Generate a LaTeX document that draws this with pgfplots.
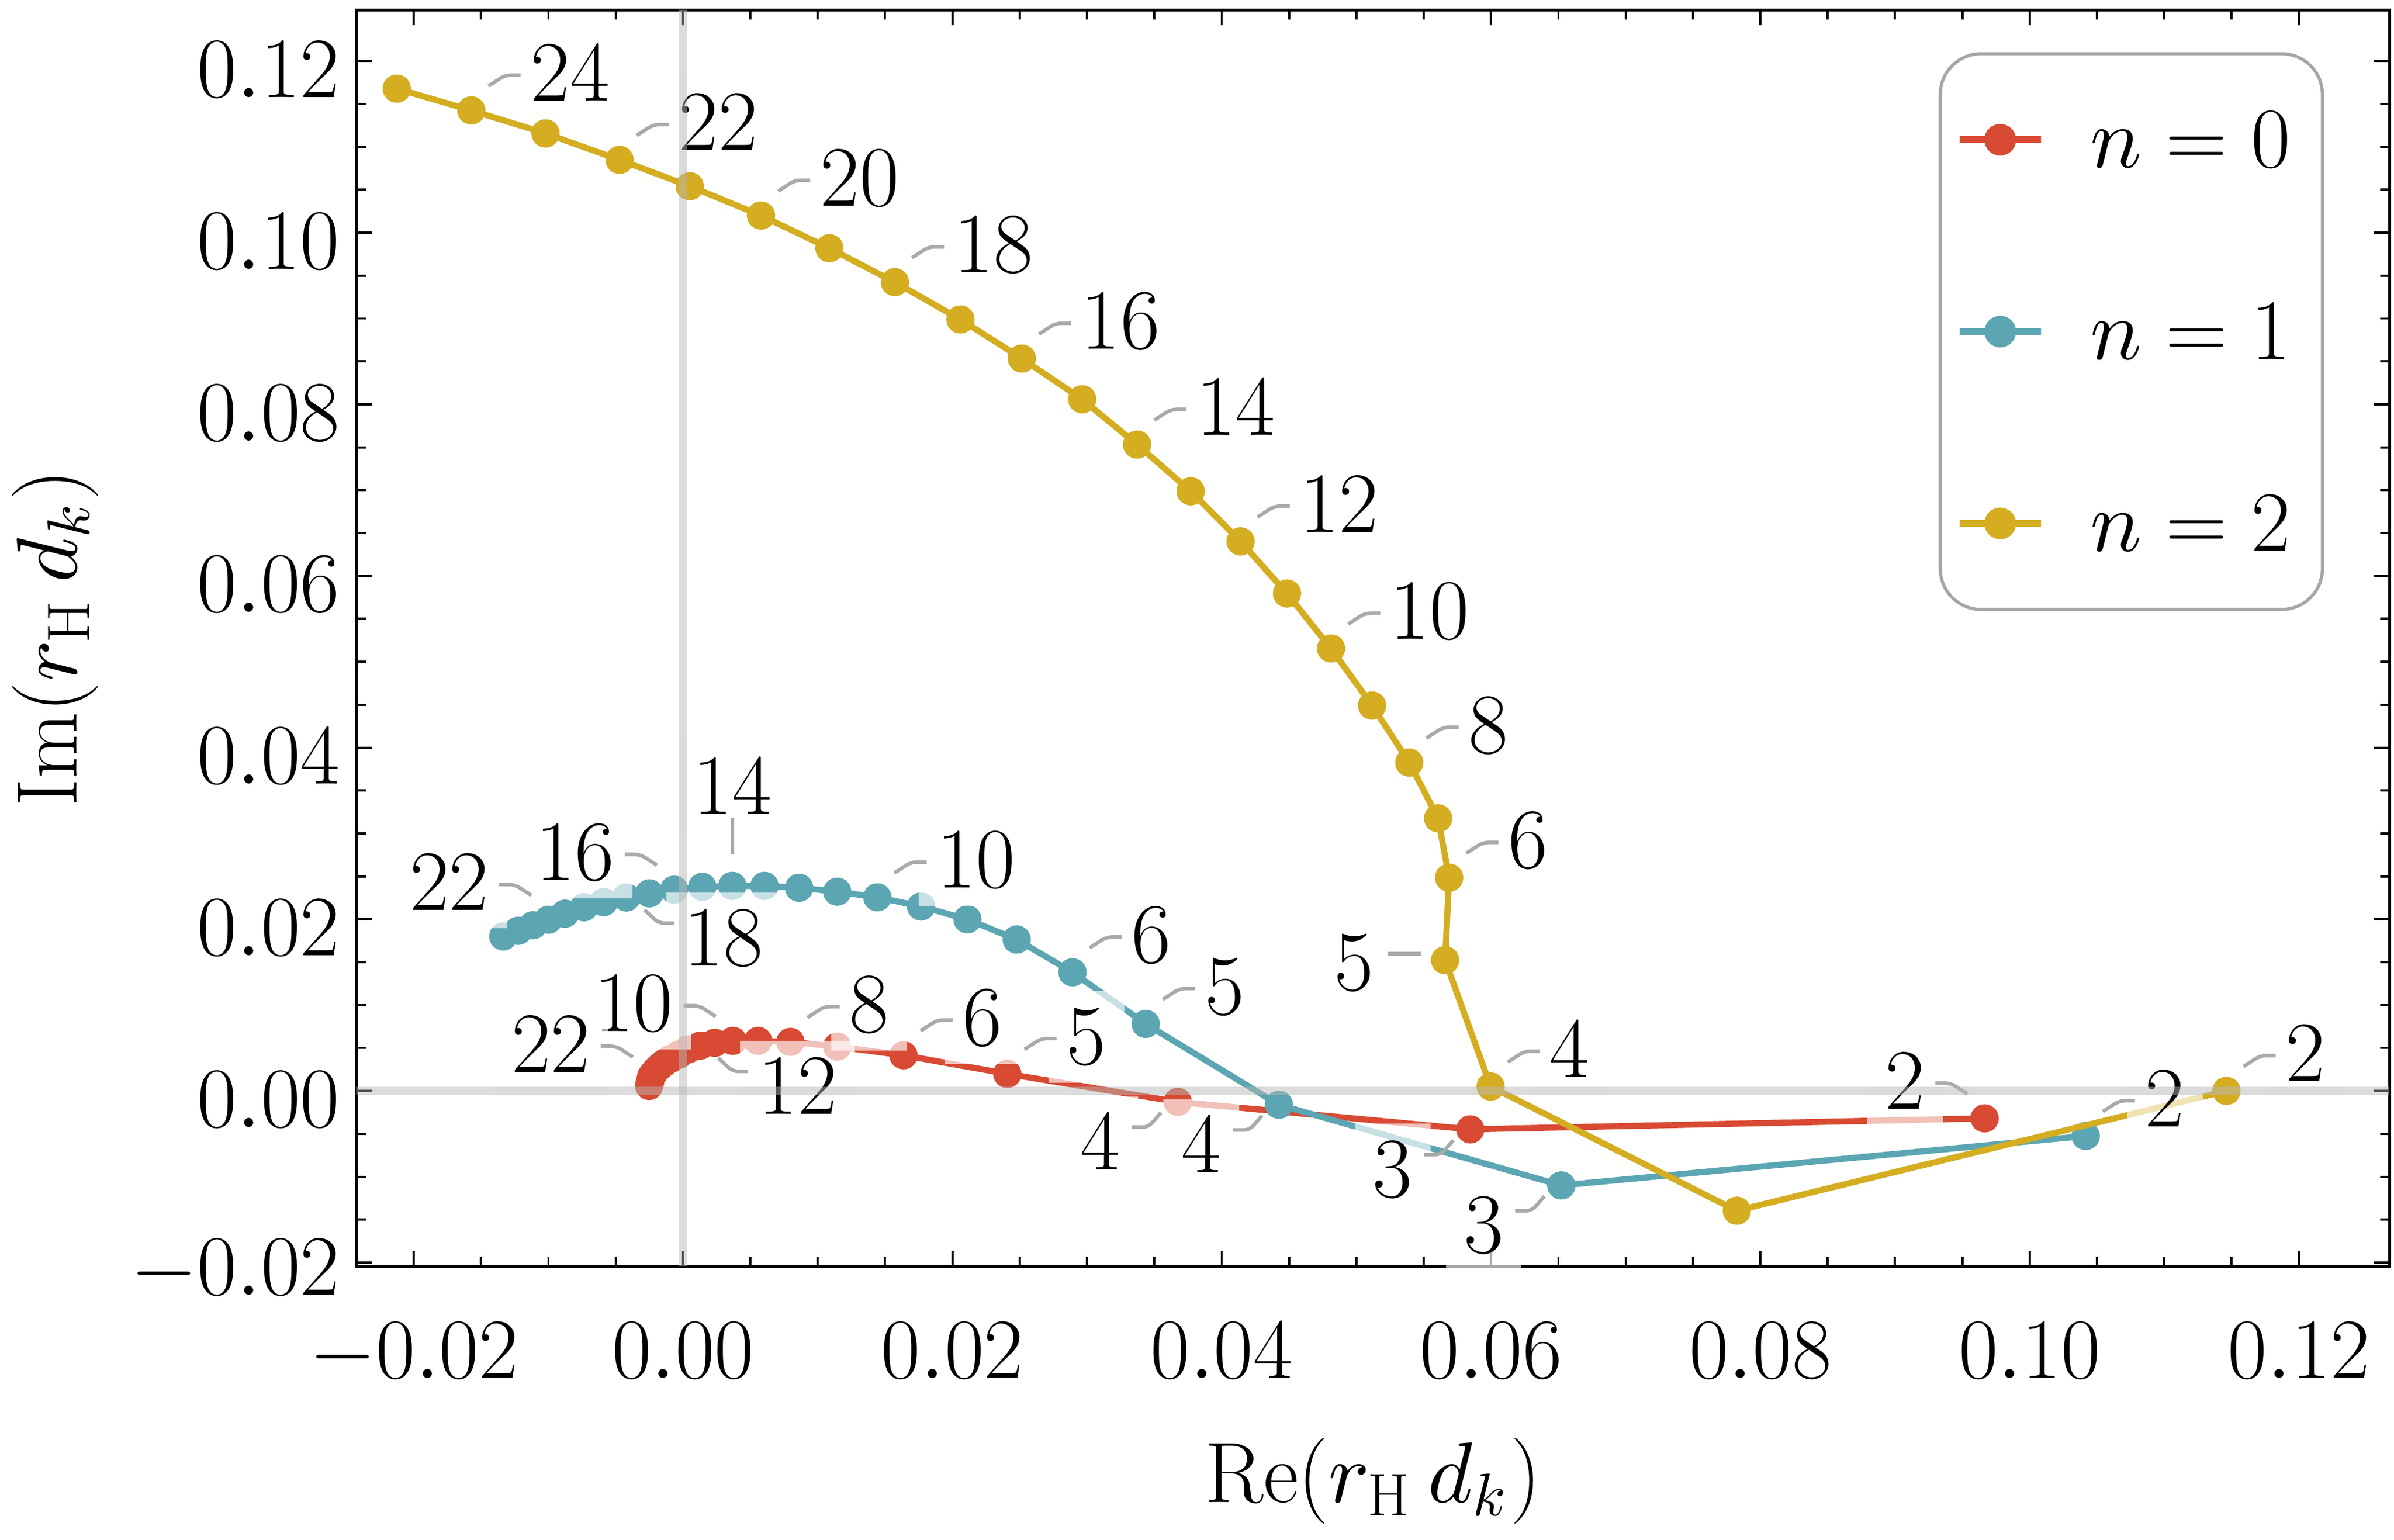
\documentclass[border=0pt]{standalone}
\usepackage{pgfplots}
\pgfplotsset{compat=1.18}
\DeclareFontFamily{OT1}{cmrx}{}
\DeclareFontShape{OT1}{cmrx}{m}{n}{<->cmr17}{}
\DeclareFontFamily{OML}{cmmx}{\skewchar\font=127}
\DeclareFontShape{OML}{cmmx}{m}{it}{<->cmmi10}{}
\DeclareFontFamily{OMS}{cmsx}{\skewchar\font=48}
\DeclareFontShape{OMS}{cmsx}{m}{n}{<->cmsy10}{}
\DeclareSymbolFont{operators}{OT1}{cmrx}{m}{n}
\DeclareSymbolFont{letters}{OML}{cmmx}{m}{it}
\DeclareSymbolFont{symbols}{OMS}{cmsx}{m}{n}
\definecolor{cR}{RGB}{216,74,51}
\definecolor{cB}{RGB}{91,166,178}
\definecolor{cY}{RGB}{212,173,33}
\definecolor{ldrgray}{RGB}{170,170,170}
\definecolor{gridgray}{RGB}{183,183,183}
\definecolor{leggray}{RGB}{166,166,166}
\tikzset{
 ldr/.style={draw=ldrgray, line width=0.4pt, rounded corners=0.6pt},
 lbl/.style={fill=white, fill opacity=0.66, text opacity=1, inner sep=2pt},
}
\newcommand{\labNE}[3]{%
 \path (axis cs:#1,#2) ++(4.35pt,4.1pt) node[lbl,anchor=west]{$#3$};
 \draw[ldr] (axis cs:#1,#2) ++(1.9pt,2.7pt) -- ++(1.85pt,1.2pt) -- ++(1.7pt,0pt);}
\newcommand{\labNW}[3]{%
 \path (axis cs:#1,#2) ++(-4.4pt,4.1pt) node[lbl,anchor=east]{$#3$};
 \draw[ldr] (axis cs:#1,#2) ++(-1.9pt,2.7pt) -- ++(-1.85pt,1.2pt) -- ++(-1.7pt,0pt);}
\newcommand{\labSE}[3]{%
 \path (axis cs:#1,#2) ++(4.2pt,-4.5pt) node[lbl,anchor=west]{$#3$};
 \draw[ldr] (axis cs:#1,#2) ++(2.0pt,-1.37pt) -- ++(1.6pt,-1.48pt) -- ++(1.65pt,0pt);}
\newcommand{\labSW}[3]{%
 \path (axis cs:#1,#2) ++(-4.2pt,-4.45pt) node[lbl,anchor=east]{$#3$};
 \draw[ldr] (axis cs:#1,#2) ++(-1.87pt,-1.2pt) -- ++(-1.39pt,-1.6pt) -- ++(-1.84pt,0pt);}
\newcommand{\labN}[3]{%
 \path (axis cs:#1,#2) ++(0pt,5.7pt) node[lbl,anchor=south]{$#3$};
 \draw[ldr] (axis cs:#1,#2) ++(0pt,3.5pt) -- ++(0pt,4pt);}
\newcommand{\labW}[3]{%
 \path (axis cs:#1,#2) ++(-5.7pt,-0.3pt) node[lbl,anchor=east]{$#3$};
 \draw[ldr] (axis cs:#1,#2) ++(-2.7pt,0.7pt) -- ++(-3.7pt,0pt);}
\begin{document}
\fontsize{9.5}{11.5}\selectfont
\begin{tikzpicture}
\begin{axis}[
 scale only axis, width=224.7pt, height=138.9pt,
 xmin=-0.02425, xmax=0.12672, ymin=-0.02045, ymax=0.12596,
 xtick={-0.02,0,0.02,0.04,0.06,0.08,0.10,0.12},
 ytick={-0.02,0,0.02,0.04,0.06,0.08,0.10,0.12},
 minor tick num=3,
 tick align=inside,
 major tick length=1.7pt, minor tick length=1.05pt,
 every tick/.style={black, line width=0.25pt},
 axis line style={line width=0.3pt},
 scaled ticks=false,
 xticklabel style={/pgf/number format/fixed, /pgf/number format/fixed zerofill, /pgf/number format/precision=2, yshift=-2.89pt},
 yticklabel style={/pgf/number format/fixed, /pgf/number format/fixed zerofill, /pgf/number format/precision=2, xshift=1.51pt, yshift=-0.95pt},
 xlabel={$\mathrm{Re}(r_{\mathrm{H}}\,d_k)$},
 ylabel={$\mathrm{Im}(r_{\mathrm{H}}\,d_k)$},
 xlabel style={at={(axis description cs:0.5,-0.1708)}, anchor=center},
 ylabel style={at={(axis description cs:-0.1482,0.5)}, anchor=center},
 clip mode=individual,
 legend style={at={(rel axis cs:1,1)}, anchor=north east, xshift=-7.24pt, yshift=-4.67pt,
   draw=leggray, line width=0.35pt, rounded corners=4.5pt, inner xsep=2pt, inner ysep=3.15pt,
   row sep=8.48pt, nodes={inner xsep=1.5pt, inner ysep=3.3pt, text depth=0pt},
   /tikz/every odd column/.append style={column sep=3.8pt}},
 legend cell align=left,
 legend image code/.code={\draw[mark repeat=2,mark phase=2,#1] plot coordinates {(0pt,0pt)(4.25pt,0pt)(8.5pt,0pt)};},
 legend image post style={line width=0.76pt, mark size=1.37pt},
]
\addplot[cR, line width=0.68pt, mark=*, mark size=1.22pt, mark options={draw=none, fill=cR}] coordinates {
(0.09665,-0.00320) (0.05846,-0.00448) (0.03674,-0.00128) (0.02408,0.00199)
(0.01637,0.00415) (0.01145,0.00516) (0.00797,0.00571) (0.00557,0.00583)
(0.00370,0.00583) (0.00235,0.00560) (0.00128,0.00527) (0.00036,0.00482)
(-0.000341,0.004189) (-0.000941,0.003714) (-0.001404,0.003252) (-0.001754,0.002797)
(-0.002023,0.002389) (-0.002210,0.002007) (-0.002360,0.001686) (-0.002407,0.001365)
(-0.002445,0.001097) (-0.002475,0.000883) (-0.002501,0.000696) (-0.002518,0.000582)
};
\addlegendentry{$n=0$}
\addplot[cB, line width=0.68pt, mark=*, mark size=1.22pt, mark options={draw=none, fill=cB}] coordinates {
(0.10416,-0.00525) (0.06522,-0.01101) (0.04425,-0.00161) (0.03436,0.00781)
(0.02892,0.01382) (0.02478,0.01764) (0.02112,0.01999) (0.01768,0.02149)
(0.01443,0.02256) (0.01145,0.02322) (0.00862,0.02367) (0.00605,0.02389)
(0.00366,0.02389) (0.00143,0.02378) (-0.00066,0.02345) (-0.00250,0.02302)
(-0.00421,0.02254) (-0.00589,0.02200) (-0.00736,0.02140) (-0.00877,0.02065)
(-0.01000,0.01995) (-0.01114,0.01930) (-0.01225,0.01866) (-0.01335,0.01800)
};
\addlegendentry{$n=1$}
\addplot[cY, line width=0.68pt, mark=*, mark size=1.22pt, mark options={draw=none, fill=cY}] coordinates {
(0.11461,0.00000) (0.07825,-0.01396) (0.05997,0.00051) (0.05659,0.01524)
(0.05689,0.02485) (0.05607,0.03176) (0.05393,0.03826) (0.05117,0.04490)
(0.04812,0.05155) (0.04485,0.05796) (0.04140,0.06403) (0.03770,0.06987)
(0.03372,0.07531) (0.02964,0.08059) (0.02516,0.08534) (0.02060,0.08989)
(0.01573,0.09424) (0.01087,0.09819) (0.00579,0.10200) (0.00050,0.10542)
(-0.00471,0.10849) (-0.01021,0.11157) (-0.01572,0.11425) (-0.02126,0.11679)
};
\addlegendentry{$n=2$}
% n=0 labels
\labNW{0.09665}{-0.00320}{2}
\labSW{0.05846}{-0.00448}{3}
\labSW{0.03674}{-0.00128}{4}
\labNE{0.02408}{0.00199}{5}
\labNE{0.01637}{0.00415}{6}
\labNE{0.00797}{0.00571}{8}
\labSE{0.00128}{0.00527}{12}
\labNW{0.00370}{0.00583}{10}
\labNW{-0.002445}{0.001097}{22}
% n=1 labels
\labNE{0.10416}{-0.00525}{2}
\labSW{0.06522}{-0.01101}{3}
\labSW{0.04425}{-0.00161}{4}
\labNE{0.03436}{0.00781}{5}
\labNE{0.02892}{0.01382}{6}
\labNE{0.01443}{0.02256}{10}
\labN{0.00366}{0.02389}{14}
\labNW{-0.00066}{0.02345}{16}
\labSE{-0.00421}{0.02254}{18}
\labNW{-0.01000}{0.01995}{22}
% n=2 labels
\labNE{0.11461}{0.00000}{2}
\labNE{0.05997}{0.00051}{4}
\labW{0.05659}{0.01524}{5}
\labNE{0.05689}{0.02485}{6}
\labNE{0.05393}{0.03826}{8}
\labNE{0.04812}{0.05155}{10}
\labNE{0.04140}{0.06403}{12}
\labNE{0.03372}{0.07531}{14}
\labNE{0.02516}{0.08534}{16}
\labNE{0.01573}{0.09424}{18}
\labNE{0.00579}{0.10200}{20}
\labNE{-0.00471}{0.10849}{22}
\labNE{-0.01572}{0.11425}{24}
% zero lines on top
\draw[draw=gridgray, draw opacity=0.49, line width=0.87pt] (axis cs:0,-0.02045) -- (axis cs:0,0.12596);
\draw[draw=gridgray, draw opacity=0.49, line width=0.87pt] (axis cs:-0.02425,0) -- (axis cs:0.12672,0);
\end{axis}
\pgfresetboundingbox
\path[use as bounding box] ([xshift=-39.4pt,yshift=-30.2pt]current axis.south west) rectangle ([xshift=225.2pt,yshift=140.0pt]current axis.south west);
\end{tikzpicture}
\end{document}
